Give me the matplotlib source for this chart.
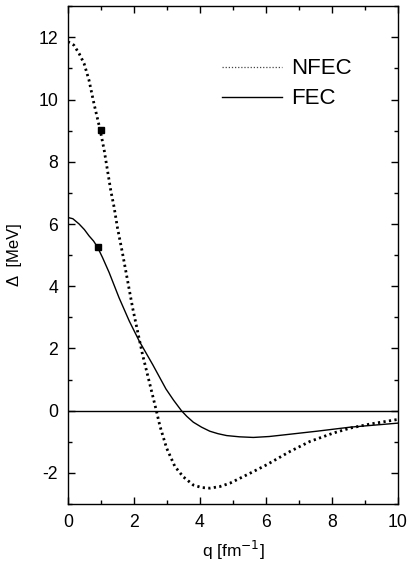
import matplotlib
matplotlib.use('Agg')
import matplotlib.pyplot as plt
from matplotlib.lines import Line2D
from matplotlib.ticker import MultipleLocator

plt.rcParams['font.family'] = ['Liberation Sans', 'DejaVu Sans']
plt.rcParams['axes.unicode_minus'] = False

# NFEC curve
q_nfec = [0.0, 0.18, 0.34, 0.49, 0.64, 0.79, 0.98, 1.1, 1.2, 1.3, 1.4, 1.5,
          1.66, 1.81, 1.96, 2.11, 2.26, 2.46, 2.68, 2.79, 2.99, 3.24, 3.49,
          3.8, 4.05, 4.3, 4.6, 4.91, 5.52, 6.02, 6.73, 7.33, 8.04, 8.55,
          9.15, 10.0]
d_nfec = [11.86, 11.75, 11.48, 11.16, 10.62, 9.87, 9.01, 8.37, 7.72, 7.07,
          6.54, 5.89, 5.03, 4.17, 3.31, 2.56, 1.81, 0.95, 0.0, -0.5, -1.2,
          -1.79, -2.12, -2.39, -2.47, -2.49, -2.44, -2.33, -2.01, -1.74,
          -1.31, -0.99, -0.72, -0.56, -0.43, -0.28]

# FEC curve
q_fec = [0.0, 0.15, 0.34, 0.5, 0.64, 0.78, 0.9, 1.05, 1.25, 1.55, 1.86,
         2.16, 2.57, 2.97, 3.2, 3.44, 3.6, 3.8, 4.05, 4.3, 4.55, 4.81,
         5.2, 5.62, 6.1, 6.53, 7.54, 8.55, 10.0]
d_fec = [6.21, 6.17, 6.0, 5.82, 5.62, 5.45, 5.25, 4.92, 4.44, 3.63, 2.88,
         2.24, 1.48, 0.7, 0.34, 0.0, -0.18, -0.37, -0.53, -0.66, -0.74,
         -0.8, -0.84, -0.86, -0.83, -0.78, -0.66, -0.53, -0.4]

# single points (squares)
q_pts = [0.99, 0.9]
d_pts = [9.03, 5.26]

fig = plt.figure(figsize=(4.09, 5.66), dpi=100)
ax = fig.add_axes([0.166, 0.1095, 0.807, 0.8795])

ax.axhline(0, color='black', lw=1.0)
ax.plot(q_nfec, d_nfec, color='black', lw=2.0, linestyle=(0, (0.8, 1.2)))
ax.plot(q_fec, d_fec, color='black', lw=1.0)
ax.plot(q_pts, d_pts, 's', color='black', markersize=5)

ax.set_xlim(0, 10)
ax.set_ylim(-3, 13)
ax.xaxis.set_major_locator(MultipleLocator(2))
ax.xaxis.set_minor_locator(MultipleLocator(1))
ax.yaxis.set_major_locator(MultipleLocator(2))
ax.yaxis.set_minor_locator(MultipleLocator(1))
ax.tick_params(which='both', direction='in', top=True, right=True,
               labelsize=12.7, width=1)
ax.tick_params(which='major', length=5, pad=7)
ax.tick_params(which='minor', length=3)
for s in ax.spines.values():
    s.set_linewidth(1)

ax.set_xlabel('q [fm$^{-1}$]', fontsize=12.5, labelpad=6)
ax.set_ylabel('Δ  [MeV]', fontsize=12, labelpad=12)

handles = [Line2D([], [], color='#444444', lw=0.9, linestyle=(0, (1, 1.5))),
           Line2D([], [], color='black', lw=1.0)]
ax.legend(handles, ['NFEC', 'FEC'], loc='upper left',
          bbox_to_anchor=(0.467, 0.895), frameon=False, fontsize=16,
          handlelength=2.7, handletextpad=0.4, labelspacing=0.4,
          borderpad=0, borderaxespad=0)

fig.savefig('out.png', dpi=100)
